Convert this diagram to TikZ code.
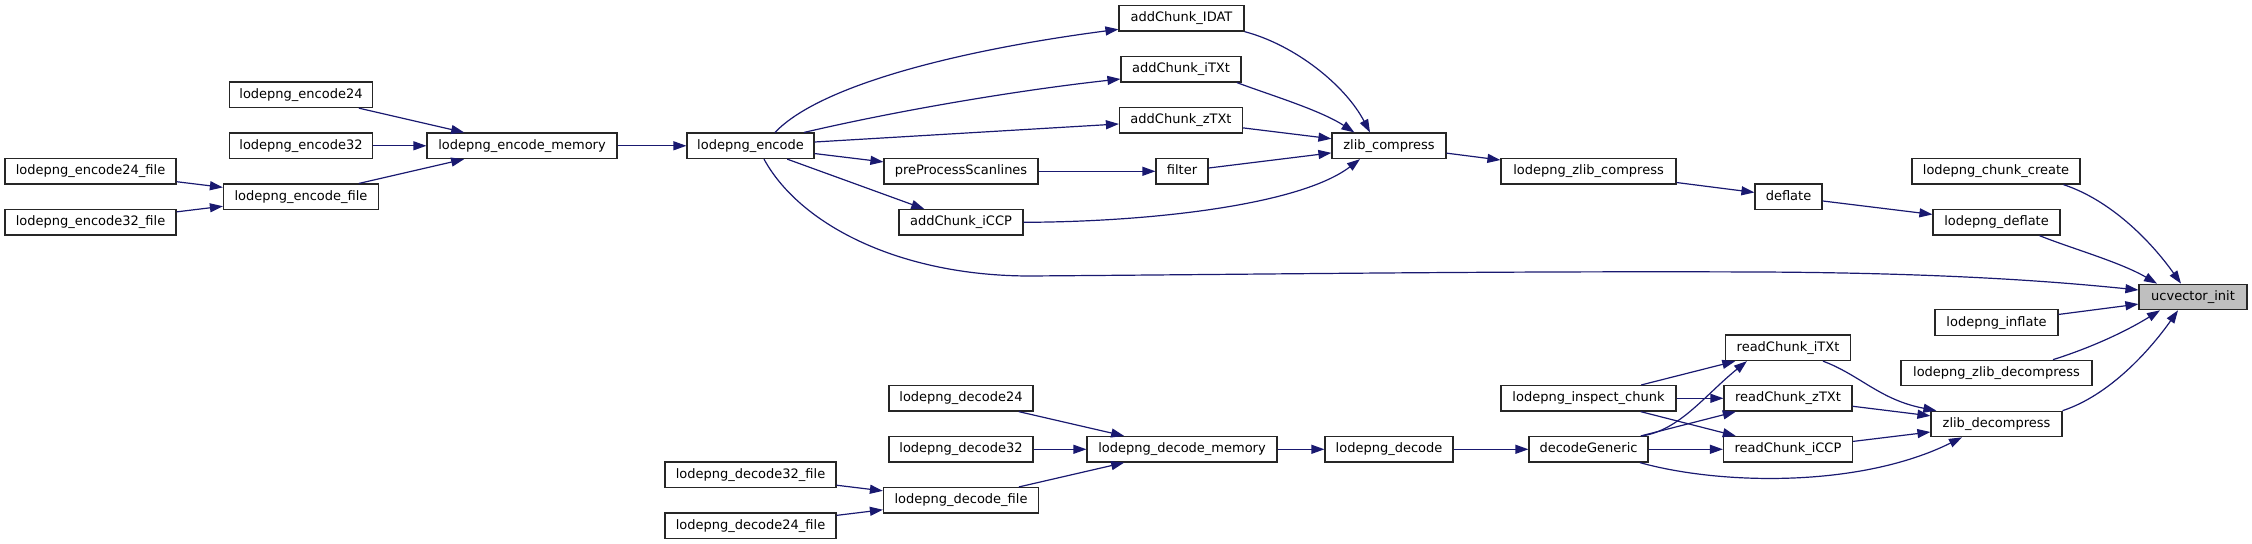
\documentclass[tikz,border=0pt]{standalone}
\usepackage{fontspec}
\setmainfont{DejaVu Sans}
\usetikzlibrary{arrows.meta,calc}
\definecolor{edgeblue}{HTML}{191970}
\definecolor{rootgray}{HTML}{BFBFBF}
\begin{document}
\begin{tikzpicture}[x=0.5pt,y=-0.5pt,
  fn/.style={draw=black!85, line width=0.6pt, fill=white, minimum width=#1*0.5pt,
    minimum height=12.75pt, inner sep=0pt, font=\fontsize{6.5}{7.8}\selectfont,
    text height=4.9pt, text depth=1.3pt},
  root/.style={fill=rootgray},
  call/.style={draw=edgeblue, line width=0.6pt, -{Triangle[length=6.5pt,width=4.5pt]}}]
\useasboundingbox (0,0) rectangle (2252,544);
% encode side
\node[fn=125] (idat) at (1181.5,18.3) {addChunk\_IDAT};
\node[fn=120] (itxt) at (1181,69.3) {addChunk\_iTXt};
\node[fn=143] (enc24) at (301,94.8) {lodepng\_encode24};
\node[fn=123] (ztxt) at (1181,120.3) {addChunk\_zTXt};
\node[fn=143] (enc32) at (301,145.8) {lodepng\_encode32};
\node[fn=190] (encmem) at (522,145.8) {lodepng\_encode\_memory};
\node[fn=127] (enc) at (750.5,145.8) {lodepng\_encode};
\node[fn=114] (zc) at (1389,145.8) {zlib\_compress};
\node[fn=171] (enc24f) at (90.5,171.3) {lodepng\_encode24\_file};
\node[fn=154] (pre) at (961,171.3) {preProcessScanlines};
\node[fn=52] (filter) at (1182,171.3) {filter};
\node[fn=175] (lzc) at (1588.5,171.3) {lodepng\_zlib\_compress};
\node[fn=168] (chunk) at (1996,171.3) {lodepng\_chunk\_create};
\node[fn=155] (encf) at (301,196.8) {lodepng\_encode\_file};
\node[fn=67] (deflate) at (1788.5,196.8) {deflate};
\node[fn=171] (enc32f) at (90.5,222.3) {lodepng\_encode32\_file};
\node[fn=124] (iccp) at (961,222.3) {addChunk\_iCCP};
\node[fn=127] (ldeflate) at (1996.5,222.3) {lodepng\_deflate};
\node[fn=108,root] (ucv) at (2193,297) {ucvector\_init};
% decode side
\node[fn=123] (linflate) at (1996.5,322.5) {lodepng\_inflate};
\node[fn=125] (rit) at (1788,347.8) {readChunk\_iTXt};
\node[fn=191] (lzd) at (1996.5,373) {lodepng\_zlib\_decompress};
\node[fn=144] (dec24) at (961,398.3) {lodepng\_decode24};
\node[fn=175] (insp) at (1588.5,398.3) {lodepng\_inspect\_chunk};
\node[fn=128] (rzt) at (1788,398.3) {readChunk\_zTXt};
\node[fn=131] (zd) at (1996.5,424) {zlib\_decompress};
\node[fn=144] (dec32) at (961,449.3) {lodepng\_decode32};
\node[fn=190] (decmem) at (1182,449.3) {lodepng\_decode\_memory};
\node[fn=128] (dec) at (1389,449.3) {lodepng\_decode};
\node[fn=119] (dg) at (1588.5,449.3) {decodeGeneric};
\node[fn=129] (ric) at (1788,449.3) {readChunk\_iCCP};
\node[fn=171] (dec32f) at (750.5,474.8) {lodepng\_decode32\_file};
\node[fn=155] (decf) at (961,500.3) {lodepng\_decode\_file};
\node[fn=171] (dec24f) at (750.5,525.8) {lodepng\_decode24\_file};

% encode edges
\draw[call] (enc24) -- (encmem);
\draw[call] (enc32) -- (encmem);
\draw[call] (encf) -- (encmem);
\draw[call] (enc24f) -- (encf);
\draw[call] (enc32f) -- (encf);
\draw[call] (encmem) -- (enc);
\draw[call] ([shift={(24.5,0)}]enc.north) .. controls (820,85) and (960,50) .. ([shift={(0,11)}]idat.west);
\draw[call] ([shift={(53.5,0)}]enc.north) .. controls (900,110) and (1020,90) .. ([shift={(0,9.7)}]itxt.west);
\draw[call] (enc) -- (ztxt);
\draw[call] (enc) -- (pre);
\draw[call] (enc) -- (iccp);
\draw[call] ([shift={(13.5,0)}]enc.south) .. controls (800,225) and (900,276) .. (1030,276)
  .. controls (1300,274) and (1500,271) .. (1760,272)
  .. controls (1950,273) and (2060,282) .. ([shift={(0,-7)}]ucv.west);
\draw[call] (pre) -- (filter);
\draw[call] (idat.south east) .. controls (1295,45) and (1345,85) .. ([shift={(-19,0)}]zc.north);
\draw[call] ([shift={(56,0)}]itxt.south) .. controls (1270,95) and (1320,110) .. ([shift={(23,0)}]zc.north west);
\draw[call] (ztxt) -- (zc);
\draw[call] (filter) -- (zc);
\draw[call] (iccp.east) .. controls (1150,222) and (1300,205) .. ([shift={(-29,0)}]zc.south);
\draw[call] (zc) -- (lzc);
\draw[call] (lzc) -- (deflate);
\draw[call] (deflate) -- (ldeflate);
\draw[call] ([shift={(67.5,0)}]chunk.south) .. controls (2110,200) and (2150,240) .. ([shift={(-12,0)}]ucv.north);
\draw[call] ([shift={(43,0)}]ldeflate.south) .. controls (2070,248) and (2120,262) .. ([shift={(-36,0)}]ucv.north);
\draw[call] (linflate) -- (ucv);
\draw[call] ([shift={(56.5,0)}]lzd.north) .. controls (2090,348) and (2125,332) .. ([shift={(-33,0)}]ucv.south);
\draw[call] (zd.north east) .. controls (2110,395) and (2150,350) .. ([shift={(-15,0)}]ucv.south);

% decode edges
\draw[call] (dec24) -- (decmem);
\draw[call] (dec32) -- (decmem);
\draw[call] (decf) -- (decmem);
\draw[call] (dec32f) -- (decf);
\draw[call] (dec24f) -- (decf);
\draw[call] (decmem) -- (dec);
\draw[call] (dec) -- (dg);
\draw[call] ([shift={(53.5,0)}]dg.north) .. controls (1680,430) and (1705,395) .. ([shift={(22,0)}]rit.south west);
\draw[call] (dg) -- (rzt);
\draw[call] (dg) -- (ric);
\draw[call] ([shift={(51.5,0)}]dg.south) .. controls (1720,485) and (1860,488) .. ([shift={(-34.5,0)}]zd.south);
\draw[call] (insp) -- (rit);
\draw[call] (insp) -- (rzt);
\draw[call] (insp) -- (ric);
\draw[call] ([shift={(35,0)}]rit.south) .. controls (1860,375) and (1880,400) .. ([shift={(6,0)}]zd.north west);
\draw[call] (rzt) -- (zd);
\draw[call] (ric) -- (zd);
\end{tikzpicture}
\end{document}
